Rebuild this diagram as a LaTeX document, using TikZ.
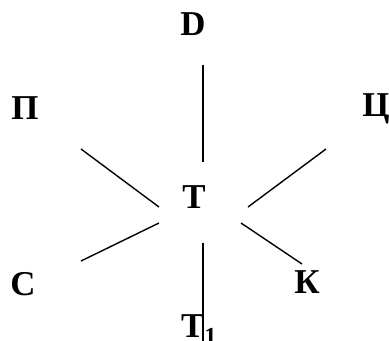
\documentclass[tikz,border=0pt]{standalone}
\usepackage{fontspec}
\setmainfont{Liberation Serif}
\usetikzlibrary{positioning}
\tikzset{
  letter/.style={font=\bfseries\fontsize{35}{35}\selectfont,inner sep=0pt},
  spoke/.style={line width=1.4bp,black}
}

\begin{document}
\begin{tikzpicture}[x=1bp,y=-1bp]
  \useasboundingbox (0,0) rectangle (389,341);
  % letters round the centre
  \node[letter] (T) at (194,197) {T};
  \node[letter] (D) at (193,24) {D};
  \node[letter] (P) at (25,108) {П};
  \node[letter] (Ts) at (376,109) {Ц};
  \node[letter] (C) at (23,284) {C};
  \node[letter] (K) at (307,282) {К};
  \node[letter,anchor=base west] (T1) at (181,337) {T\textsubscript{1}};
  % spoke ends
  \coordinate (up-a) at (203,65);   \coordinate (up-b) at (203,162);
  \coordinate (dn-a) at (203,243);  \coordinate (dn-b) at (203,341);
  \coordinate (pl-a) at (81,149);   \coordinate (pl-b) at (159,207);
  \coordinate (cl-a) at (81,261);   \coordinate (cl-b) at (159,223);
  \coordinate (tr-a) at (326,149);  \coordinate (tr-b) at (248,207);
  \coordinate (kr-a) at (302,264);  \coordinate (kr-b) at (241,223);
  \foreach \sname in {up,dn,pl,cl,tr,kr}
    \draw[spoke] (\sname-a) -- (\sname-b);
\end{tikzpicture}
\end{document}
